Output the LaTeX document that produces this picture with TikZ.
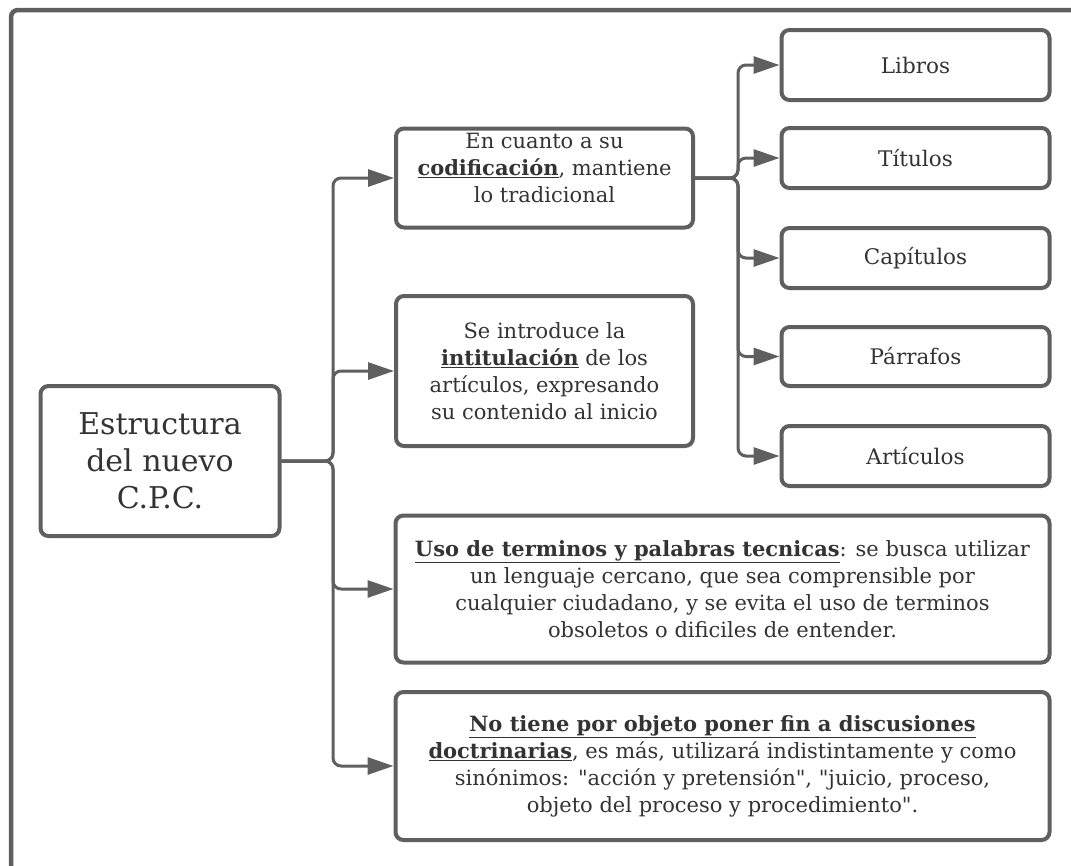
\documentclass[tikz,border=0pt]{standalone}
\usepackage{fontspec}
\setmainfont{DejaVu Serif}[Ligatures=TeXOff]
\usetikzlibrary{arrows.meta}
\definecolor{lc}{HTML}{5F5F5F}
\definecolor{tc}{HTML}{333333}
\begin{document}
\begin{tikzpicture}[x=1pt,y=-1pt,
  box/.style={draw=lc, line width=4pt, rounded corners=8pt, fill=white, text=tc, align=center, inner sep=0pt},
  txt/.style={font=\fontsize{21}{27}\selectfont},
  small/.style={box, minimum width=268pt, font=\fontsize{21.5}{26}\selectfont},
  conn/.style={draw=lc, line width=3pt, rounded corners=8pt, -{Triangle[length=26pt,width=17pt]}},
  frame/.style={draw=lc, line width=4.5pt, rounded corners=7pt}
]
\useasboundingbox (0,0) rectangle (1071,865);
\fill[white] (0,0) rectangle (1071,865);
\draw[frame] (11,866) -- (11,10) -- (1072,10);

\node[box, minimum width=239pt, minimum height=150pt, font=\fontsize{30}{37}\selectfont] (main) at (160,461)
  {Estructura\\del nuevo\\C.P.C.};

\node[box, txt, minimum width=297pt, minimum height=99pt] (b1) at (544.5,178)
  {\raisebox{0pt}[\height][\dimexpr\depth+15pt\relax]{\begin{tabular}{@{}c@{}}En cuanto a su\\\underline{\textbf{codificación}}, mantiene\\lo tradicional\end{tabular}}};
\node[box, txt, minimum width=297pt, minimum height=150pt] (b2) at (544.5,371)
  {Se introduce la\\\underline{\textbf{intitulación}} de los\\artículos, expresando\\su contenido al inicio};
\node[box, txt, minimum width=654pt, minimum height=147pt] (b3) at (722.5,589)
  {\underline{\textbf{Uso de terminos y palabras tecnicas}}: se busca utilizar\\un lenguaje cercano, que sea comprensible por\\cualquier ciudadano, y se evita el uso de terminos\\obsoletos o dificiles de entender.};
\node[box, txt, minimum width=654pt, minimum height=148pt] (b4) at (722.5,766)
  {\underline{\textbf{No tiene por objeto poner fin a discusiones}}\\\underline{\textbf{doctrinarias}}, es más, utilizará indistintamente y como\\sinónimos: "acción y pretensión", "juicio, proceso,\\objeto del proceso y procedimiento".};

\node[small, minimum height=70pt] (libros) at (915.5,65) {Libros};
\node[small, minimum height=60pt] (titulos) at (915.5,158) {Títulos};
\node[small, minimum height=60pt] (capitulos) at (915.5,258) {Capítulos};
\node[small, minimum height=59pt] (parrafos) at (915.5,356.5) {Párrafos};
\node[small, minimum height=60pt] (articulos) at (915.5,456) {Artículos};

\coordinate (j1) at (333,461);
\coordinate (j2) at (738,178);
\draw[conn] (main.east) -- (j1) |- (b1.west);
\draw[conn] (main.east) -- (j1) |- (b2.west);
\draw[conn] (main.east) -- (j1) |- (b3.west);
\draw[conn] (main.east) -- (j1) |- (b4.west);

\draw[conn] (b1.east) -- (j2) |- (libros.west);
\draw[conn] (b1.east) -- (j2) |- (titulos.west);
\draw[conn] (b1.east) -- (j2) |- (capitulos.west);
\draw[conn] (b1.east) -- (j2) |- (parrafos.west);
\draw[conn] (b1.east) -- (j2) |- (articulos.west);
\end{tikzpicture}
\end{document}
